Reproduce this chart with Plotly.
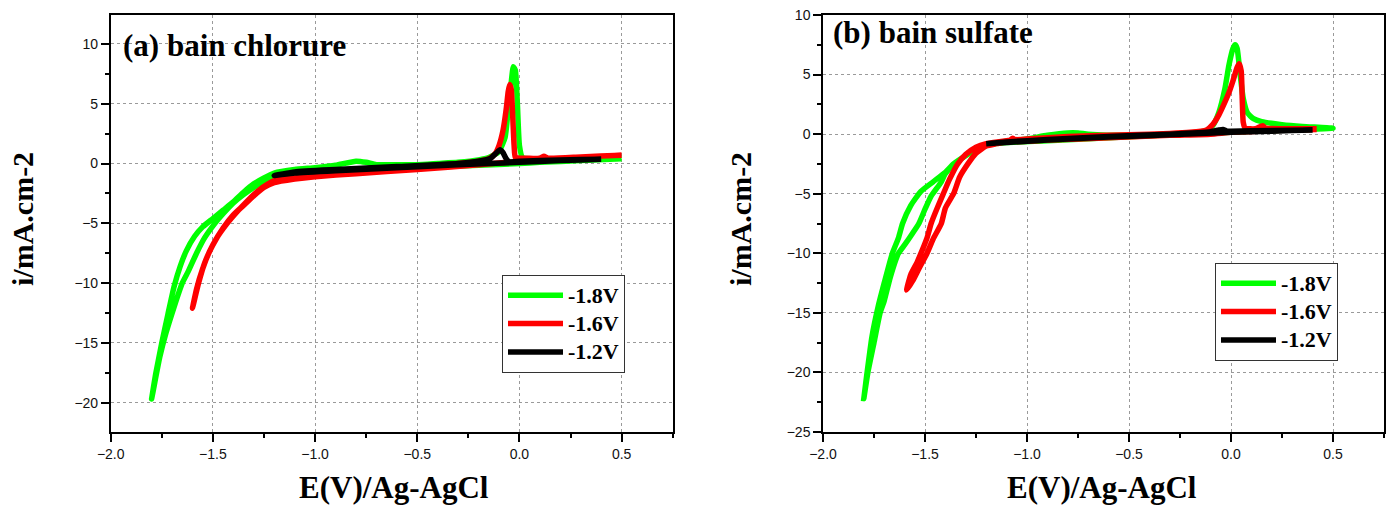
import plotly.graph_objects as go

# ---------------- data ----------------
# (a) bain chlorure
a_g_x = [0.50, 0.30, 0.10, 0.00, -0.20, -0.50, -0.80, -1.00, -1.10, -1.20, -1.25, -1.30, -1.35,
         -1.40, -1.45, -1.49, -1.54, -1.58, -1.62, -1.65, -1.69, -1.73, -1.76, -1.80,
         -1.78, -1.75, -1.72, -1.69, -1.66, -1.63, -1.59, -1.55, -1.50, -1.45, -1.40, -1.35, -1.30, -1.25,
         -1.20, -1.10, -1.00, -0.90, -0.80, -0.75, -0.70, -0.60, -0.50, -0.40, -0.30, -0.20, -0.15,
         -0.10, -0.07, -0.055, -0.04, -0.03, -0.02, -0.01, 0.00, 0.015, 0.05, 0.20, 0.35, 0.50]
a_g_y = [0.40, 0.25, 0.10, 0.00, -0.15, -0.35, -0.55, -0.70, -0.85, -1.10, -1.50, -2.00, -2.60,
         -3.30, -4.20, -5.00, -6.20, -7.50, -9.00, -10.0, -12.0, -14.2, -16.2, -19.7,
         -17.6, -15.0, -12.6, -10.3, -8.60, -7.30, -6.10, -5.30, -4.60, -3.90, -3.20, -2.40, -1.70, -1.20,
         -0.80, -0.50, -0.35, -0.15, 0.20, 0.10, -0.10, -0.10, -0.10, 0.00, 0.10, 0.30, 0.50,
         1.00, 2.20, 4.50, 6.80, 8.10, 7.80, 5.00, 1.50, 0.50, 0.40, 0.40, 0.40, 0.45]

a_r_x = [0.50, 0.30, 0.10, 0.00, -0.20, -0.50, -0.80, -1.00, -1.10, -1.20, -1.25, -1.30, -1.35,
         -1.40, -1.45, -1.50, -1.54, -1.57, -1.60,
         -1.58, -1.55, -1.52, -1.48, -1.43, -1.38, -1.33, -1.28, -1.23, -1.18, -1.10, -1.00, -0.80,
         -0.50, -0.30, -0.20, -0.15, -0.12, -0.10, -0.08, -0.065, -0.055, -0.048, -0.04, -0.033,
         -0.026, -0.02, 0.00, 0.10, 0.12, 0.14, 0.30, 0.50]
a_r_y = [0.70, 0.55, 0.35, 0.20, -0.10, -0.50, -0.85, -1.10, -1.30, -1.60, -2.00, -2.70, -3.50,
         -4.30, -5.40, -6.80, -8.30, -10.0, -12.1,
         -10.5, -8.80, -7.50, -6.20, -5.00, -4.00, -3.10, -2.30, -1.70, -1.30, -1.00, -0.80, -0.60,
         -0.30, 0.00, 0.20, 0.40, 0.80, 1.50, 2.80, 4.50, 6.00, 6.60, 6.20, 4.00,
         1.50, 0.50, 0.45, 0.45, 0.60, 0.45, 0.55, 0.70]

a_k_x = [0.40, 0.20, 0.00, -0.30, -0.60, -0.90, -1.10, -1.20,
         -1.10, -0.90, -0.60, -0.30, -0.18, -0.14, -0.115, -0.095, -0.08, -0.065, -0.05, 0.00, 0.20, 0.40]
a_k_y = [0.35, 0.25, 0.10, -0.10, -0.35, -0.60, -0.80, -1.00,
         -0.70, -0.50, -0.25, 0.00, 0.25, 0.45, 0.85, 1.15, 0.90, 0.40, 0.15, 0.20, 0.30, 0.35]

# (b) bain sulfate
b_g_x = [0.50, 0.30, 0.10, 0.00, -0.30, -0.60, -0.90, -1.10, -1.20, -1.25, -1.30, -1.35, -1.40,
         -1.42, -1.47, -1.50, -1.53, -1.56, -1.60, -1.63, -1.67, -1.70, -1.72, -1.75, -1.78, -1.80,
         -1.78, -1.76, -1.73, -1.70, -1.66, -1.63, -1.61, -1.57, -1.52, -1.46, -1.40, -1.36, -1.30,
         -1.25, -1.20, -1.10, -1.00, -0.90, -0.80, -0.75, -0.70, -0.50, -0.30, -0.20, -0.12, -0.09,
         -0.06, -0.03, -0.01, 0.01, 0.02, 0.03, 0.045, 0.06, 0.08, 0.11, 0.15, 0.25, 0.35, 0.50]
b_g_y = [0.50, 0.35, 0.25, 0.15, -0.05, -0.30, -0.55, -0.70, -0.90, -1.30, -1.80, -2.40, -3.30,
         -4.00, -5.20, -6.30, -7.50, -8.30, -9.30, -10.0, -12.0, -14.0, -15.0, -17.5, -20.0, -22.2,
         -19.5, -17.0, -14.5, -12.5, -10.0, -8.70, -7.50, -6.00, -4.80, -4.00, -3.20, -2.50, -1.80,
         -1.30, -0.90, -0.60, -0.40, -0.10, 0.10, 0.10, 0.00, -0.10, 0.00, 0.10, 0.30, 0.70,
         1.80, 3.80, 5.80, 7.20, 7.50, 7.20, 5.00, 3.00, 1.80, 1.30, 1.05, 0.80, 0.65, 0.50]

b_r_x = [0.42, 0.20, 0.00, -0.10, -0.30, -0.60, -0.90, -1.05, -1.07, -1.09, -1.15, -1.20, -1.25,
         -1.29, -1.33, -1.36, -1.40, -1.42, -1.46, -1.49, -1.53, -1.56, -1.59,
         -1.57, -1.54, -1.52, -1.49, -1.47, -1.44, -1.41, -1.38, -1.34, -1.30, -1.25, -1.20, -1.10,
         -1.00, -0.80, -0.50, -0.30, -0.20, -0.12, -0.09, -0.06, -0.035, -0.01, 0.01, 0.03, 0.04,
         0.05, 0.055, 0.06, 0.07, 0.12, 0.155, 0.17, 0.25, 0.42]
b_r_y = [0.40, 0.30, 0.15, 0.00, -0.10, -0.30, -0.50, -0.60, -0.35, -0.60, -0.80, -1.00, -1.60,
         -2.50, -3.60, -5.00, -6.20, -7.50, -8.80, -10.0, -11.3, -12.3, -13.1,
         -11.8, -10.8, -10.0, -8.70, -7.50, -6.20, -5.00, -3.80, -2.50, -1.70, -1.10, -0.80, -0.55,
         -0.40, -0.20, -0.05, 0.05, 0.15, 0.35, 0.80, 1.60, 2.50, 3.50, 4.50, 5.60, 5.90,
         5.30, 3.00, 1.00, 0.50, 0.45, 0.70, 0.50, 0.45, 0.45]

b_k_x = [0.40, 0.20, 0.00, -0.30, -0.60, -0.90, -1.10, -1.20,
         -1.10, -0.90, -0.60, -0.30, -0.10, -0.06, -0.04, -0.02, 0.00, 0.20, 0.40]
b_k_y = [0.35, 0.25, 0.15, -0.05, -0.25, -0.50, -0.70, -0.80,
         -0.65, -0.45, -0.20, 0.00, 0.20, 0.35, 0.40, 0.25, 0.25, 0.30, 0.35]

series_names = ["-1.8V", "-1.6V", "-1.2V"]
series_colors = ["#00FF00", "#FF0000", "#000000"]
panel_titles = ["(a) bain chlorure", "(b) bain sulfate"]
x_title = "E(V)/Ag-AgCl"
y_title = "i/mA.cm-2"

# ---------------- figure ----------------
W, H = 1389, 509
fig = go.Figure()

panel_a = [(a_g_x, a_g_y), (a_r_x, a_r_y), (a_k_x, a_k_y)]
panel_b = [(b_g_x, b_g_y), (b_r_x, b_r_y), (b_k_x, b_k_y)]


def legend_label(name):
    return '<span style="font-size:22px">' + name + '</span>'


for (xs, ys), name, col in zip(panel_a, series_names, series_colors):
    fig.add_trace(go.Scatter(x=xs, y=ys, mode="lines", name=legend_label(name),
                             line=dict(color=col, width=5.5, shape="spline", smoothing=0.5),
                             xaxis="x", yaxis="y", legend="legend"))
for (xs, ys), name, col in zip(panel_b, series_names, series_colors):
    fig.add_trace(go.Scatter(x=xs, y=ys, mode="lines", name=legend_label(name),
                             line=dict(color=col, width=5.5, shape="spline", smoothing=0.5),
                             xaxis="x2", yaxis="y2", legend="legend2"))

tickfont = dict(family="Liberation Sans, Arial", size=14, color="#111")
minor_x = dict(dtick=0.25, ticks="outside", ticklen=4, tickwidth=1.5, tickcolor="black", showgrid=False)
minor_y = dict(dtick=2.5, ticks="outside", ticklen=4, tickwidth=1.5, tickcolor="black", showgrid=False)
common = dict(showline=True, linecolor="black", linewidth=1.5, mirror=True,
              ticks="outside", ticklen=8, tickwidth=1.5, tickcolor="black",
              showgrid=True, gridcolor="#9a9a9a", griddash="dot", gridwidth=1,
              zeroline=False, tickfont=tickfont, automargin=False)


def px_x(p):
    return p / W


def px_y(p):
    return 1 - p / H


legend_font = dict(family="Liberation Serif, Times New Roman", size=19.5, color="black", weight="bold")

fig.update_layout(
    width=W, height=H, autosize=False,
    margin=dict(l=0, r=0, t=0, b=0, pad=0),
    paper_bgcolor="white", plot_bgcolor="white",
    xaxis=dict(domain=[px_x(110.7), px_x(672.7)], range=[-2.0, 0.75], dtick=0.5, tick0=0,
               tickformat=".1f", anchor="y", minor=minor_x, **common),
    yaxis=dict(domain=[px_y(432), px_y(15)], range=[-22.45, 12.42], dtick=5, tick0=0,
               anchor="x", minor=minor_y, **common),
    xaxis2=dict(domain=[px_x(823), px_x(1384)], range=[-2.0, 0.75], dtick=0.5, tick0=0,
                tickformat=".1f", anchor="y2", minor=minor_x, **common),
    yaxis2=dict(domain=[px_y(432), px_y(15)], range=[-25, 10], dtick=5, tick0=0,
                anchor="x2", minor=minor_y, **common),
    legend=dict(x=px_x(502), y=px_y(275), xanchor="left", yanchor="top",
                bgcolor="white", bordercolor="#333", borderwidth=1,
                font=legend_font, tracegroupgap=0, itemwidth=55),
    legend2=dict(x=px_x(1215), y=px_y(263), xanchor="left", yanchor="top",
                 bgcolor="white", bordercolor="#333", borderwidth=1,
                 font=legend_font, tracegroupgap=0, itemwidth=55),
    showlegend=True,
)

title_font = dict(family="Liberation Serif, Times New Roman", size=31, color="black", weight="bold")
axis_font = dict(family="Liberation Serif, Times New Roman", size=31, color="black", weight="bold")
ytitle_font = dict(family="Liberation Serif, Times New Roman", size=30, color="black", weight="bold")

fig.add_annotation(text=panel_titles[0], xref="paper", yref="paper", x=px_x(121), y=px_y(45),
                   xanchor="left", yanchor="middle", showarrow=False, font=title_font)
fig.add_annotation(text=panel_titles[1], xref="paper", yref="paper", x=px_x(831), y=px_y(33),
                   xanchor="left", yanchor="middle", showarrow=False, font=title_font)
for cx in (394, 1102):
    fig.add_annotation(text=x_title, xref="paper", yref="paper", x=px_x(cx), y=px_y(487),
                       xanchor="center", yanchor="middle", showarrow=False, font=axis_font)
for cx in (22, 740):
    fig.add_annotation(text=y_title, xref="paper", yref="paper", x=px_x(cx), y=px_y(219),
                       xanchor="center", yanchor="middle", showarrow=False, textangle=-90,
                       font=ytitle_font)

fig.write_html("out.html")
